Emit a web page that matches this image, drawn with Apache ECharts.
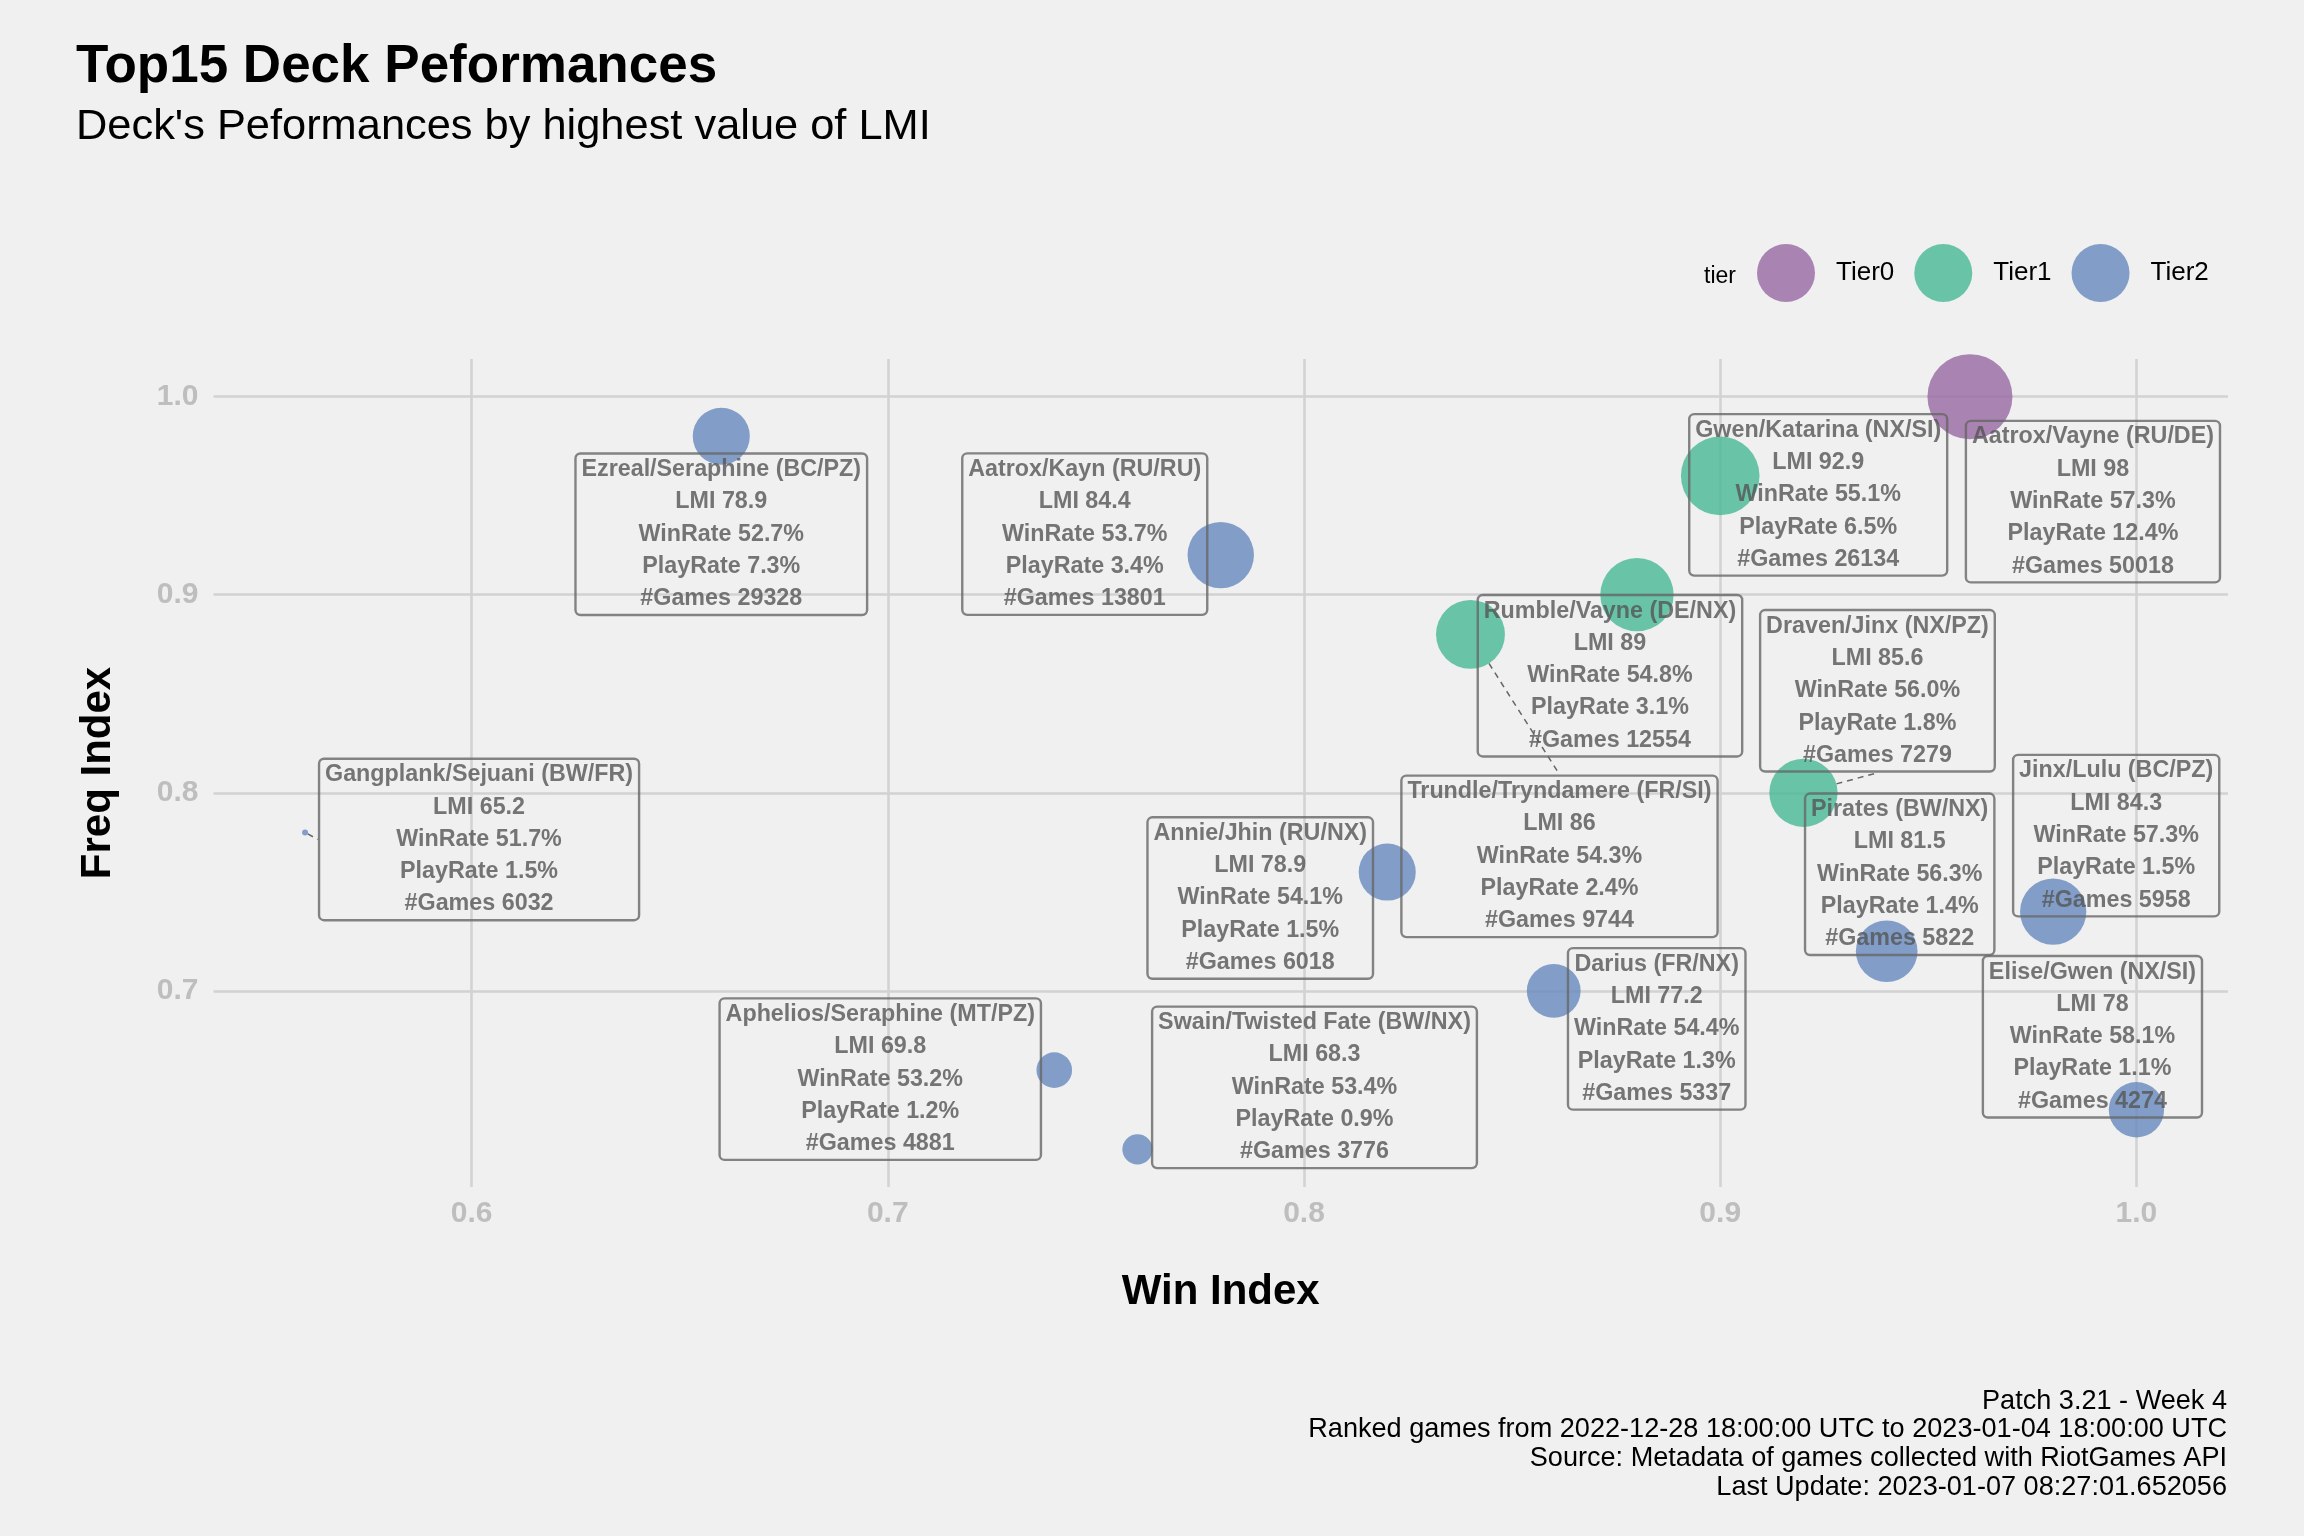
<!DOCTYPE html>
<html>
<head>
<meta charset="utf-8">
<script src="https://cdn.jsdelivr.net/npm/echarts@6/dist/echarts.min.js"></script>
<style>
  html, body { margin: 0; padding: 0; background: #F0F0F0; }
  #chart { width: 2304px; height: 1536px; }
</style>
</head>
<body>
<div id="chart"></div>
<script>
// ---- data ----
const decks = [
  'Aatrox/Vayne (RU/DE)', 'Gwen/Katarina (NX/SI)', 'Rumble/Vayne (DE/NX)', 'Trundle/Tryndamere (FR/SI)',
  'Draven/Jinx (NX/PZ)', 'Aatrox/Kayn (RU/RU)', 'Jinx/Lulu (BC/PZ)', 'Pirates (BW/NX)',
  'Ezreal/Seraphine (BC/PZ)', 'Annie/Jhin (RU/NX)', 'Elise/Gwen (NX/SI)', 'Darius (FR/NX)',
  'Aphelios/Seraphine (MT/PZ)', 'Swain/Twisted Fate (BW/NX)', 'Gangplank/Sejuani (BW/FR)'
];
const tiers = ['Tier0', 'Tier1', 'Tier1', 'Tier1', 'Tier1', 'Tier2', 'Tier2', 'Tier2',
  'Tier2', 'Tier2', 'Tier2', 'Tier2', 'Tier2', 'Tier2', 'Tier2'];
const winIndex  = [0.96, 0.90, 0.88, 0.84, 0.92, 0.78, 0.98, 0.94, 0.66, 0.82, 1.00, 0.86, 0.74, 0.76, 0.56];
const freqIndex = [1.00, 0.96, 0.90, 0.88, 0.80, 0.92, 0.74, 0.72, 0.98, 0.76, 0.64, 0.70, 0.66, 0.62, 0.78];
const lmi       = [98, 92.9, 89, 86, 85.6, 84.4, 84.3, 81.5, 78.9, 78.9, 78, 77.2, 69.8, 68.3, 65.2];
const winRate   = [57.3, 55.1, 54.8, 54.3, 56.0, 53.7, 57.3, 56.3, 52.7, 54.1, 58.1, 54.4, 53.2, 53.4, 51.7];
const playRate  = [12.4, 6.5, 3.1, 2.4, 1.8, 3.4, 1.5, 1.4, 7.3, 1.5, 1.1, 1.3, 1.2, 0.9, 1.5];
const games     = [50018, 26134, 12554, 9744, 7279, 13801, 5958, 5822, 29328, 6018, 4274, 5337, 4881, 3776, 6032];
const tierNames = ['Tier0', 'Tier1', 'Tier2'];
const xTicks = [0.6, 0.7, 0.8, 0.9, 1.0];
const yTicks = [0.7, 0.8, 0.9, 1.0];

// ---- layout / style (not data) ----
const labelOffsets = [
  [123, 105], [98, 19], [-27, 81], [89, 222], [74, -102], [-136, -21], [63, -76], [13, -77],
  [0, 98], [-127, 26], [-44, -73], [103, 38], [-174, 9], [177, -62], [174, 7]
];
const showLeader = [false, false, false, true, true, false, false, false,
  false, false, false, false, false, false, true];
const tierColors = { Tier0: '#9768A1', Tier1: '#46B895', Tier2: '#6689BE' };
const FONT = "'Liberation Sans', Arial, sans-serif";
const SIZE_MIN = 6, SIZE_MAX = 85;
const lmiMin = Math.min(...lmi), lmiMax = Math.max(...lmi);
function sizeOf(v) {
  const t = (v - lmiMin) / (lmiMax - lmiMin);
  return SIZE_MIN + (SIZE_MAX - SIZE_MIN) * Math.sqrt(t);
}

const seriesIdx = tierNames.map(t => decks.map((d, i) => i).filter(i => tiers[i] === t));

const series = tierNames.map((t, s) => ({
  name: t,
  type: 'scatter',
  data: seriesIdx[s].map(i => ({
    value: [winIndex[i], freqIndex[i], lmi[i]],
    idx: i,
    labelLine: { show: showLeader[i] }
  })),
  symbolSize: v => sizeOf(v[2]),
  itemStyle: { color: tierColors[t], opacity: 0.8 },
  emphasis: { disabled: true },
  label: {
    show: true,
    position: 'inside',
    formatter: p => {
      const i = p.data.idx;
      return decks[i] + '\nLMI ' + lmi[i] + '\nWinRate ' + winRate[i].toFixed(1) + '%\nPlayRate ' +
        playRate[i].toFixed(1) + '%\n#Games ' + games[i];
    },
    fontFamily: FONT,
    fontSize: 23.3,
    fontWeight: 'bold',
    color: '#555555',
    lineHeight: 32.3,
    align: 'center',
    verticalAlign: 'middle',
    borderColor: '#666666',
    borderWidth: 1.2,
    borderRadius: 5,
    padding: [0, 6],
    backgroundColor: 'transparent'
  },
  labelLine: {
    show: true,
    lineStyle: { color: '#666666', width: 1.5, type: [6, 5] }
  },
  labelLayout: p => {
    const i = seriesIdx[p.seriesIndex][p.dataIndex];
    return { dx: labelOffsets[i][0], dy: labelOffsets[i][1] };
  }
}));

const chart = echarts.init(document.getElementById('chart'), null, { renderer: 'canvas' });
chart.setOption({
  backgroundColor: '#F0F0F0',
  animation: false,
  title: [
    { text: 'Top15 Deck Peformances', left: 76, top: 41, padding: 0,
      textStyle: { fontFamily: FONT, fontSize: 53, fontWeight: 'bold', color: '#000' } },
    { text: "Deck's Peformances by highest value of LMI", left: 76, top: 106, padding: 0,
      textStyle: { fontFamily: FONT, fontSize: 43.4, fontWeight: 'normal', color: '#000' } }
  ],
  legend: {
    data: tierNames,
    left: 1757,
    top: 244,
    padding: 0,
    itemWidth: 58,
    itemHeight: 58,
    itemGap: 20,
    icon: 'circle',
    selectedMode: false,
    textStyle: { fontFamily: FONT, fontSize: 26, color: '#000', padding: [4, 0, 0, 16] }
  },
  graphic: [
    { type: 'text', left: 1704, top: 265,
      style: { text: 'tier', fontFamily: FONT, fontSize: 23, fill: '#000' } },
    { type: 'text', x: 2227, y: 1387,
      style: {
        text: 'Patch 3.21 - Week 4\nRanked games from 2022-12-28 18:00:00 UTC to 2023-01-04 18:00:00 UTC\nSource: Metadata of games collected with RiotGames API\nLast Update: 2023-01-07 08:27:01.652056',
        fontFamily: FONT, fontSize: 27.1, lineHeight: 28.6, fill: '#000', align: 'right', verticalAlign: 'top'
      } }
  ],
  grid: { left: 213.5, right: 76, top: 359, bottom: 349, containLabel: false },
  xAxis: {
    type: 'value',
    min: 0.538, max: 1.022,
    name: 'Win Index',
    nameLocation: 'middle',
    nameGap: 84,
    nameTextStyle: { fontFamily: FONT, fontSize: 42, fontWeight: 'bold', color: '#000' },
    axisLine: { show: false },
    axisTick: { show: false },
    axisLabel: {
      showMinLabel: false, showMaxLabel: false, margin: 12,
      fontFamily: FONT, fontSize: 30, fontWeight: 'bold', color: '#BEBEBE',
      formatter: v => xTicks.some(t => Math.abs(t - v) < 1e-9) ? v.toFixed(1) : ''
    },
    splitLine: { show: true, showMinLine: false, showMaxLine: false, lineStyle: { color: '#D2D2D2', width: 2.5 } }
  },
  yAxis: {
    type: 'value',
    min: 0.601, max: 1.019,
    name: 'Freq Index',
    nameLocation: 'middle',
    nameGap: 94,
    nameTextStyle: { fontFamily: FONT, fontSize: 42, fontWeight: 'bold', color: '#000' },
    axisLine: { show: false },
    axisTick: { show: false },
    axisLabel: {
      showMinLabel: false, showMaxLabel: false, margin: 15,
      fontFamily: FONT, fontSize: 30, fontWeight: 'bold', color: '#BEBEBE',
      formatter: v => yTicks.some(t => Math.abs(t - v) < 1e-9) ? v.toFixed(1) : ''
    },
    splitLine: { show: true, showMinLine: false, showMaxLine: false, lineStyle: { color: '#D2D2D2', width: 2.5 } }
  },
  series: series
});
</script>
</body>
</html>
